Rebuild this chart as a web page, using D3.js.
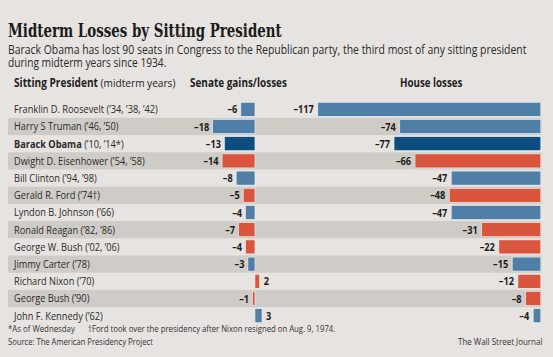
<!DOCTYPE html>
<html><head><meta charset="utf-8">
<script src="https://cdn.jsdelivr.net/npm/d3@7"></script>
<style>
html,body{margin:0;padding:0;background:#e6e3e0;}
svg{display:block;}
</style></head>
<body>
<svg id="chart" width="553" height="357"></svg>
<script>
const presidents = ["Franklin D. Roosevelt","Harry S Truman","Barack Obama","Dwight D. Eisenhower","Bill Clinton","Gerald R. Ford","Lyndon B. Johnson","Ronald Reagan","George W. Bush","Jimmy Carter","Richard Nixon","George Bush","John F. Kennedy"];
const years = ["(’34, ’38, ’42)","(’46, ’50)","(’10, ’14*)","(’54, ’58)","(’94, ’98)","(’74†)","(’66)","(’82, ’86)","(’02, ’06)","(’78)","(’70)","(’90)","(’62)"];
const party = ["D","D","D","R","D","R","D","R","R","D","R","R","D"];
const senate = [-6,-18,-13,-14,-8,-5,-4,-7,-4,-3,2,-1,3];
const house = [-117,-74,-77,-66,-47,-48,-47,-31,-22,-15,-12,-8,-4];
const highlight = "Barack Obama";

const title = "Midterm Losses by Sitting President";
const subtitle = ["Barack Obama has lost 90 seats in Congress to the Republican party, the third most of any sitting president","during midterm years since 1934."];
const headers = {name:"Sitting President", nameNote:" (midterm years)", senate:"Senate gains/losses", house:"House losses"};
const notes = ["*As of Wednesday","†Ford took over the presidency after Nixon resigned on Aug. 9, 1974.","Source: The American Presidency Project","The Wall Street Journal"];

const colors = {D:"#4f7ea7", R:"#d9553d", H:"#0c4e80"};
const sans = "'Open Sans', 'Noto Sans', sans-serif";

const svg = d3.select("#chart");
const rows = presidents.map((p,i)=>({p, y:years[i], party:party[i], s:senate[i], h:house[i], i}));

const y = d3.scaleBand().domain(presidents).range([100.7, 100.7 + 17.2*presidents.length]).paddingInner(0.186).paddingOuter(0.093);
const xS = d3.scaleLinear().domain([-18, 3]).range([212.7, 262.0]);
const xH = d3.scaleLinear().domain([-117, 0]).range([317.8, 540.8]);

// horizontally scale a text (drawn at x=0) so it spans `w` px, anchored at (x,yy)
function place(el, x, yy, w, anchor){
  el.attr("x",0).attr("y",0);
  if(anchor) el.attr("text-anchor",anchor);
  const k = w==null ? 1 : w / el.node().getComputedTextLength();
  el.attr("transform", `translate(${x},${yy}) scale(${k},1)`);
  return k;
}

// stripes
svg.append("g").selectAll("rect").data(rows.filter(d=>d.i%2===1)).join("rect")
  .attr("x", 8).attr("width", 533.5)
  .attr("y", d=>y(d.p) - y.step()*y.paddingInner()/2)
  .attr("height", y.step())
  .attr("fill", "#cfcbc7");

// title
place(svg.append("text").text(title)
  .attr("font-family","'DejaVu Serif', 'Liberation Serif', serif").attr("font-weight","bold")
  .attr("font-size",19).attr("fill","#1b1b1b"), 8, 36.5, 274);

place(svg.append("text").text(subtitle[0]).attr("font-family",sans).attr("font-size",12.5).attr("fill","#2a2a2a"), 8, 53.5, 519);
place(svg.append("text").text(subtitle[1]).attr("font-family",sans).attr("font-size",12.5).attr("fill","#2a2a2a"), 8, 66.5, 158.5);

// headers
const h1 = svg.append("text").attr("font-family",sans).attr("font-size",11.5).attr("fill","#222");
h1.append("tspan").attr("font-weight","bold").text(headers.name);
h1.append("tspan").text(headers.nameNote);
place(h1, 14, 87, 161.5);
place(svg.append("text").text(headers.senate).attr("font-family",sans).attr("font-size",11.5)
  .attr("font-weight","bold").attr("fill","#222"), 190, 87, 97);
place(svg.append("text").text(headers.house).attr("font-family",sans).attr("font-size",11.5)
  .attr("font-weight","bold").attr("fill","#222"), 400, 87, 62.5);

// row labels
const lab = svg.append("g").selectAll("text").data(rows).join("text")
  .attr("font-family",sans).attr("font-size",10.8).attr("fill","#2b2b2b");
lab.append("tspan").attr("font-weight",d=>d.p===highlight?"bold":null).text(d=>d.p);
lab.append("tspan").text(d=>" "+d.y);
const k = 144 / lab.nodes()[0].getComputedTextLength();
lab.attr("transform", d=>`translate(14,${y(d.p)+y.bandwidth()/2+3.8}) scale(${k},1)`);

const col = d=> d.p===highlight ? colors.H : colors[d.party];
const fmt = v => v<0 ? "–"+Math.abs(v) : String(v);
const vk = 0.82;

// senate bars
svg.append("g").selectAll("rect").data(rows).join("rect")
  .attr("x",d=>xS(Math.min(0,d.s))).attr("width",d=>Math.abs(xS(d.s)-xS(0)))
  .attr("y",d=>y(d.p)).attr("height",y.bandwidth()).attr("fill",col)
  .attr("stroke","#f2f0ee").attr("stroke-width",0.6);
svg.append("g").selectAll("text").data(rows).join("text")
  .attr("text-anchor",d=>d.s<0?"end":"start")
  .attr("transform",d=>`translate(${d.s<0 ? xS(d.s)-3.5 : xS(d.s)+4},${y(d.p)+y.bandwidth()/2+4}) scale(${vk},1)`)
  .attr("font-family",sans).attr("font-weight","bold").attr("font-size",11.2).attr("fill","#1b1b1b")
  .text(d=>fmt(d.s));

// house bars
svg.append("g").selectAll("rect").data(rows).join("rect")
  .attr("x",d=>xH(d.h)).attr("width",d=>xH(0)-xH(d.h))
  .attr("y",d=>y(d.p)).attr("height",y.bandwidth()).attr("fill",col)
  .attr("stroke","#f2f0ee").attr("stroke-width",0.6);
svg.append("g").selectAll("text").data(rows).join("text")
  .attr("text-anchor","end")
  .attr("transform",d=>`translate(${xH(d.h)-4},${y(d.p)+y.bandwidth()/2+4}) scale(${vk},1)`)
  .attr("font-family",sans).attr("font-weight","bold").attr("font-size",11.2).attr("fill","#1b1b1b")
  .text(d=>fmt(d.h));

// notes
function note(t,x,yy,len){
  place(svg.append("text").text(t).attr("font-family",sans).attr("font-size",9.5).attr("fill","#333"), x, yy, len);
}
note(notes[0],8,332,67);
note(notes[1],88,332,248);
note(notes[2],8,345,145);
note(notes[3],458,345,84.5);
</script>
</body></html>
